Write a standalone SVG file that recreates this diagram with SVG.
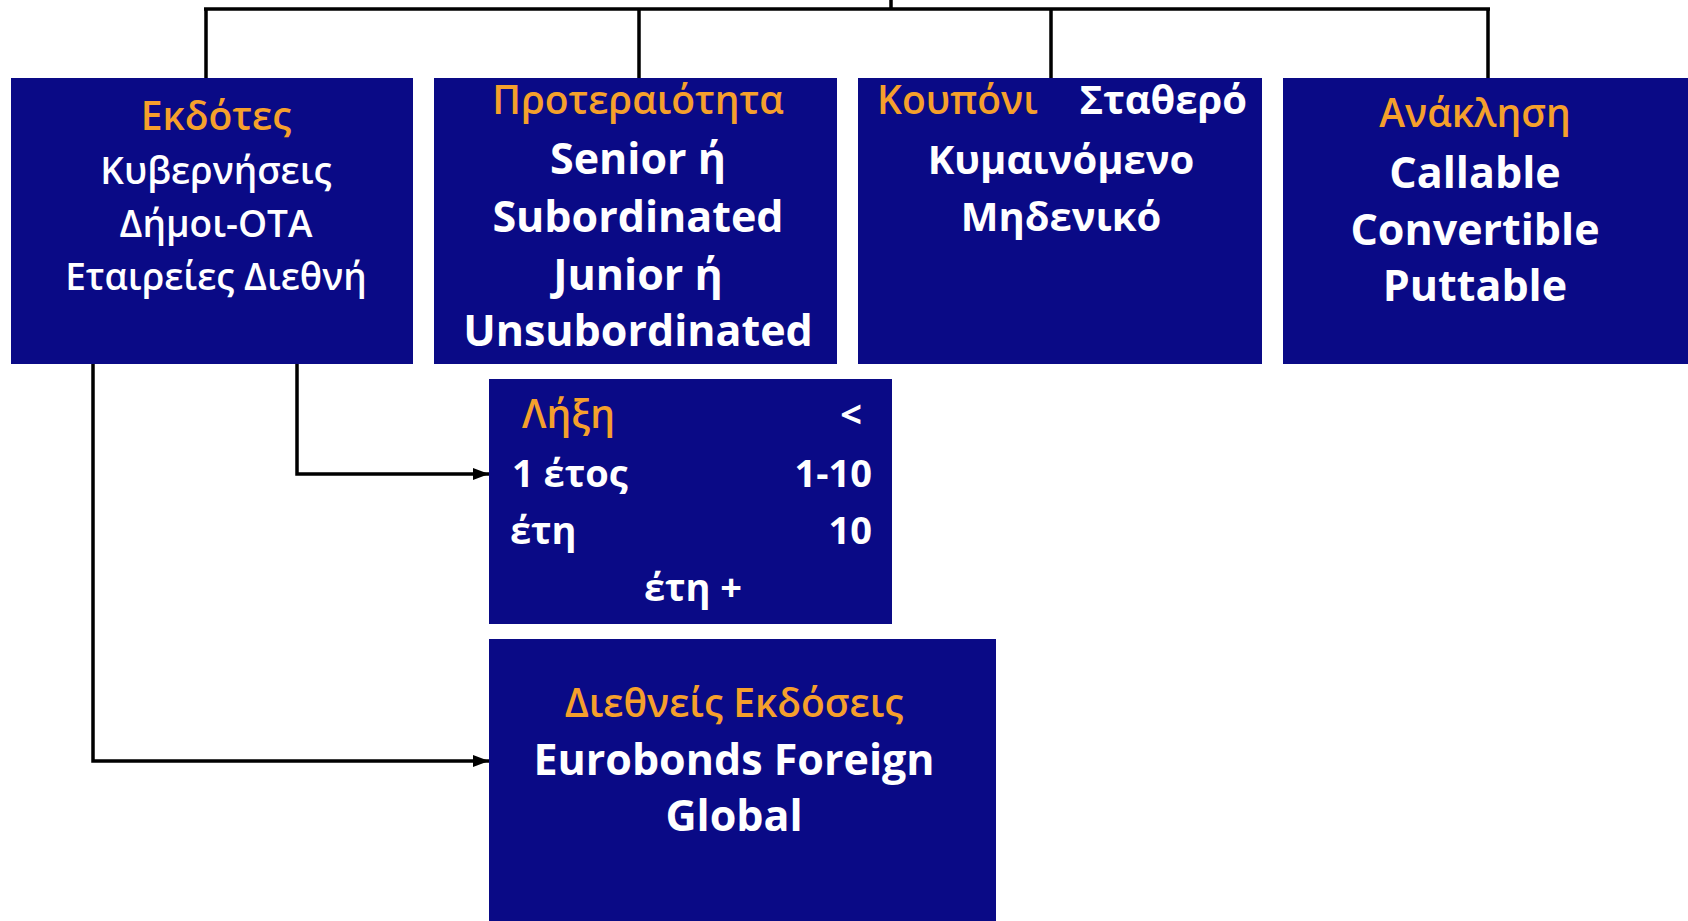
<svg xmlns="http://www.w3.org/2000/svg" width="1688" height="921" viewBox="0 0 1688 921">
<defs>
<marker id="arr" viewBox="0 0 16 12" refX="16" refY="6" markerWidth="16" markerHeight="12" markerUnits="userSpaceOnUse" orient="auto">
<path d="M0,0 L16,6 L0,12 z" fill="#000"/>
</marker>
<style>
.box{fill:#0a0a86;}
.t{font-family:"Open Sans","Noto Sans","DejaVu Sans",sans-serif;text-anchor:middle;}
.or{fill:#f5a02c;font-weight:600;font-size:39px;}
.wb{fill:#fff;font-weight:700;font-size:43px;}
.ws{fill:#fff;font-weight:600;font-size:37px;}
.ln{fill:none;stroke:#000;stroke-width:3.5;}
</style>
</defs>
<rect width="1688" height="921" fill="#fff"/>
<g id="connectors">
<path class="ln" d="M891,0 V9 M204,9 H1490 M206,9 V78 M639,9 V78 M1051,9 V78 M1488,9 V78"/>
<path class="ln" d="M297,364 V474 H489" marker-end="url(#arr)"/>
<path class="ln" d="M93,364 V761 H489" marker-end="url(#arr)"/>
</g>
<g id="issuers">
<rect class="box" x="11" y="78" width="402" height="286"/>
<text class="t or" x="216" y="130">Εκδότες</text>
<text class="t ws" x="216" y="184">Κυβερνήσεις</text>
<text class="t ws" x="216" y="237">Δήμοι-ΟΤΑ</text>
<text class="t ws" x="216" y="290">Εταιρείες Διεθνή</text>
</g>
<g id="priority">
<rect class="box" x="434" y="78" width="403" height="286"/>
<text class="t or" x="638" y="114">Προτεραιότητα</text>
<text class="t wb" x="638" y="174">Senior ή</text>
<text class="t wb" x="638" y="232">Subordinated</text>
<text class="t wb" x="638" y="290">Junior ή</text>
<text class="t wb" x="638" y="346">Unsubordinated</text>
</g>
<g id="coupon">
<rect class="box" x="858" y="78" width="404" height="286"/>
<text class="t or" x="877" y="114" style="text-anchor:start">Κουπόνι</text>
<text class="t wb" x="1247" y="114" style="text-anchor:end;font-size:40px">Σταθερό</text>
<text class="t wb" x="1061" y="174" style="font-size:40px">Κυμαινόμενο</text>
<text class="t wb" x="1061" y="231" style="font-size:40px">Μηδενικό</text>
</g>
<g id="call">
<rect class="box" x="1283" y="78" width="405" height="286"/>
<text class="t or" x="1475" y="127">Ανάκληση</text>
<text class="t wb" x="1475" y="188">Callable</text>
<text class="t wb" x="1475" y="245">Convertible</text>
<text class="t wb" x="1475" y="301">Puttable</text>
</g>
<g id="maturity">
<rect class="box" x="489" y="379" width="403" height="245"/>
<text class="t or" x="522" y="428" style="text-anchor:start">Λήξη</text>
<text class="t wb" x="862" y="428" style="text-anchor:end;font-size:38px">&lt;</text>
<text class="t wb" x="512" y="487" style="text-anchor:start;font-size:38px">1 έτος</text>
<text class="t wb" x="872" y="487" style="text-anchor:end;font-size:38px">1-10</text>
<text class="t wb" x="510" y="544" style="text-anchor:start;font-size:38px">έτη</text>
<text class="t wb" x="872" y="544" style="text-anchor:end;font-size:38px">10</text>
<text class="t wb" x="693" y="601" style="font-size:38px">έτη +</text>
</g>
<g id="international">
<rect class="box" x="489" y="639" width="507" height="290"/>
<text class="t or" x="734" y="717">Διεθνείς Εκδόσεις</text>
<text class="t wb" x="734" y="775">Eurobonds Foreign</text>
<text class="t wb" x="734" y="831">Global</text>
</g>
</svg>
